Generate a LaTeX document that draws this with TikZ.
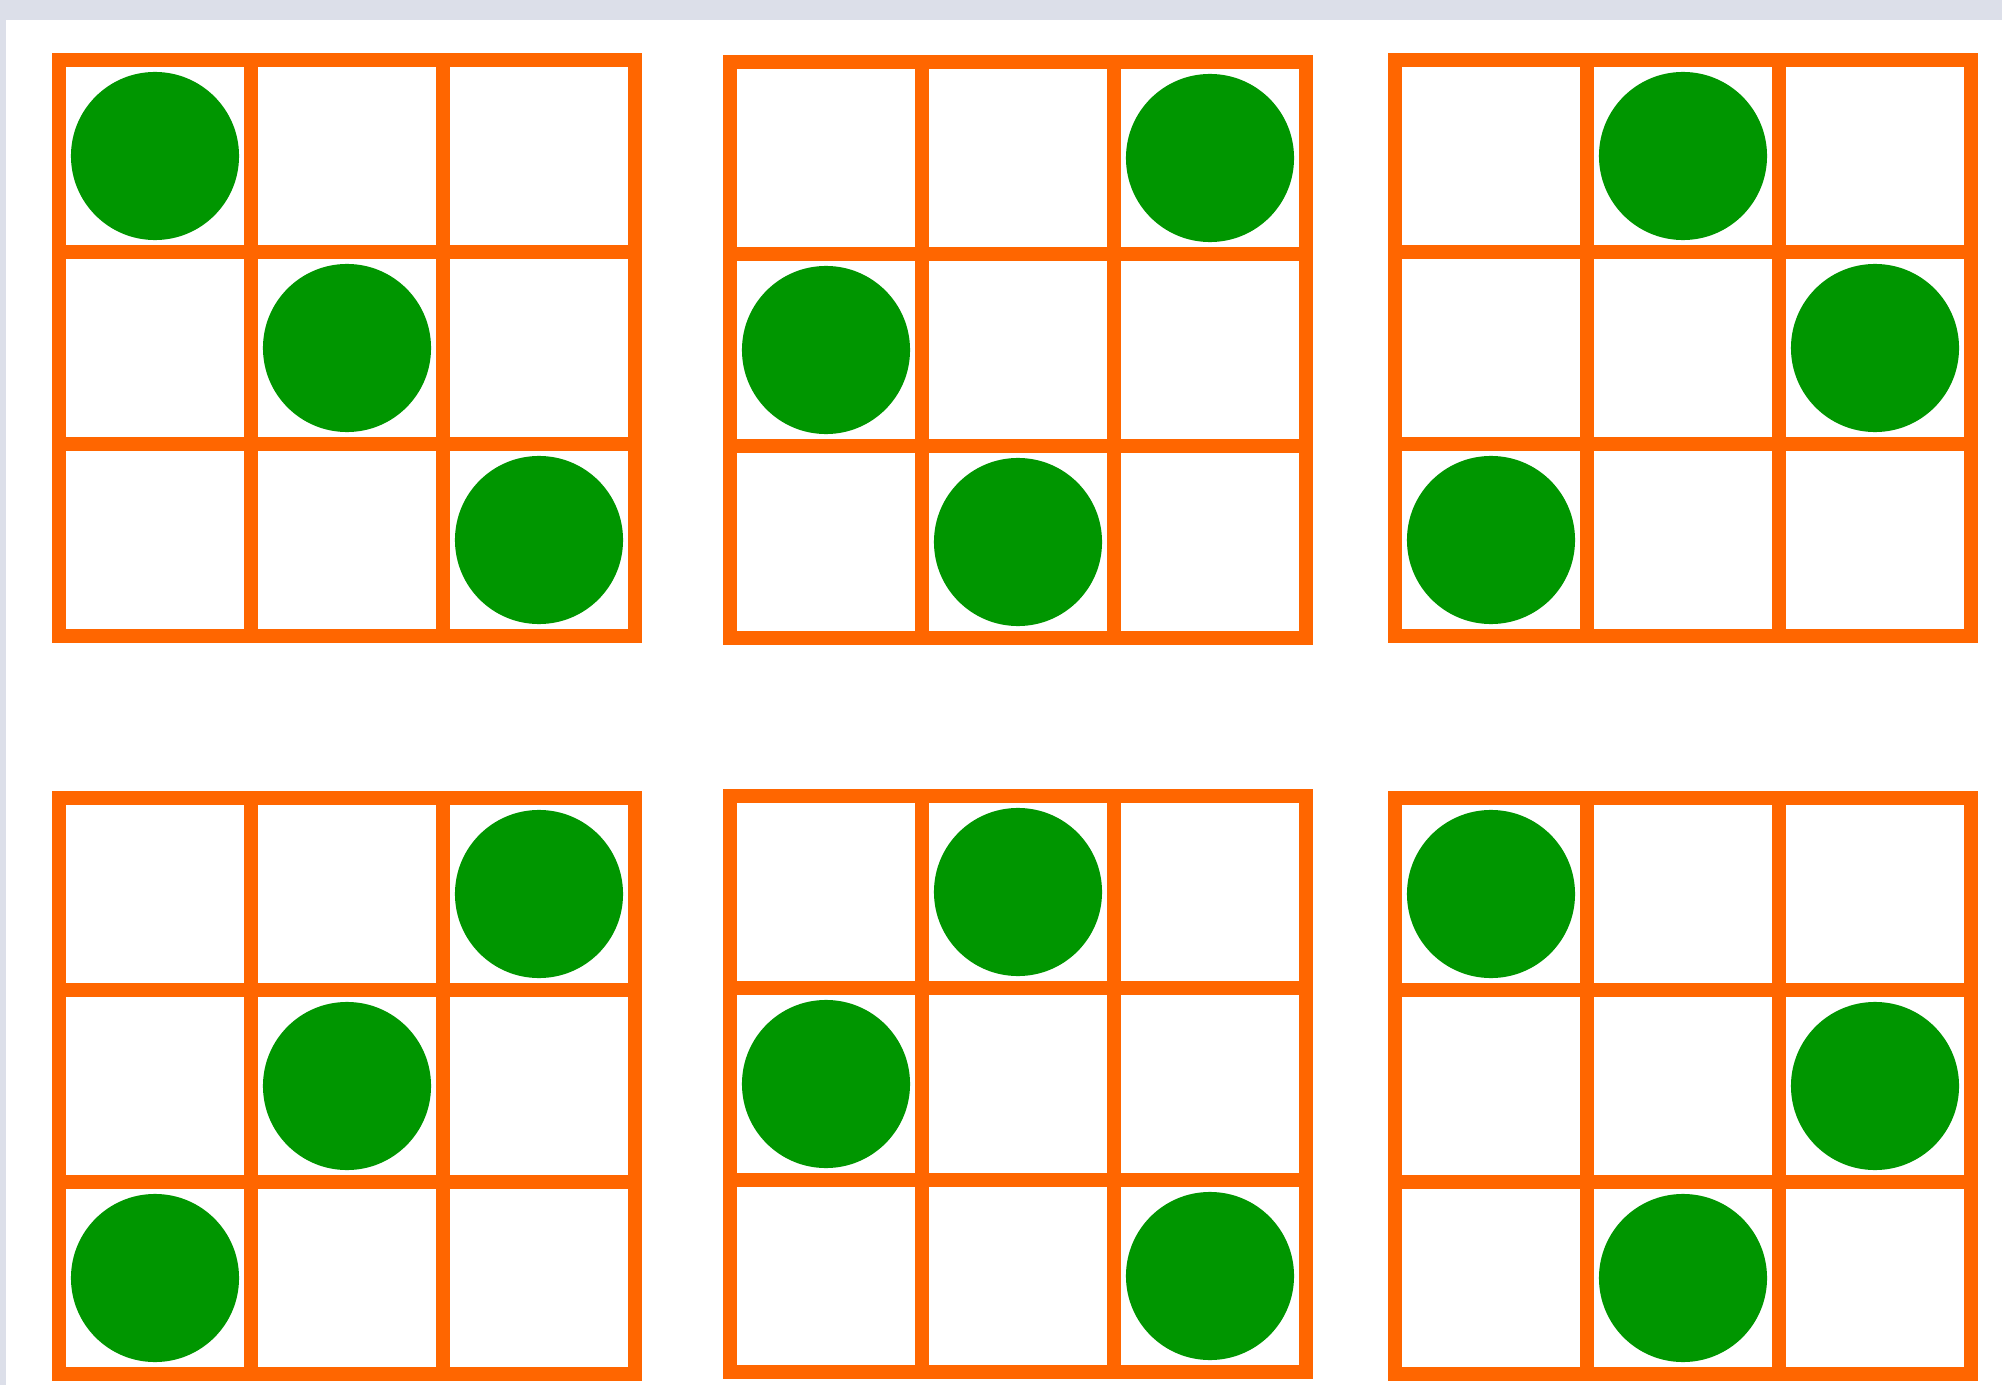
\documentclass[tikz,border=0pt]{standalone}
\usepackage{xcolor}
\usepackage{tikz}

\begin{document}
\begin{tikzpicture}[x=0.01cm, y=-0.01cm,
    gridline/.style={draw=gridorange, line width=0.14cm, line cap=rect},
    dot/.style={fill=dotgreen}]
      \definecolor{gridorange}{HTML}{FF6600} \definecolor{dotgreen}{HTML}{009600}
      \definecolor{bandgray}{HTML}{DCDFE9}

      \useasboundingbox (0,0) rectangle (2002,1385);
      \fill[white] (0,0) rectangle (2002,1385);
      \fill[bandgray] (0,0) rectangle (2002,20);
      \fill[bandgray] (0,0) rectangle (6,1385);
      % six 3x3 boards, one green dot per row
      \foreach \gx/\gy/\a/\b/\c in {59/60/0/1/2, 730/62/2/0/1, 1395/60/1/2/0,
                                   59/798/2/1/0, 730/796/1/0/2, 1395/798/0/2/1} {
        \foreach \k in {0,1,2,3} {
          \draw[gridline] (\gx+\k*192, \gy) -- (\gx+\k*192, \gy+576);
          \draw[gridline] (\gx, \gy+\k*192) -- (\gx+576, \gy+\k*192);
        }
        \foreach \r/\cc in {0/\a, 1/\b, 2/\c}
          \fill[dot] (\gx+\cc*192+96, \gy+\r*192+96) circle[radius=0.84cm];
      }
    \end{tikzpicture}
\end{document}
